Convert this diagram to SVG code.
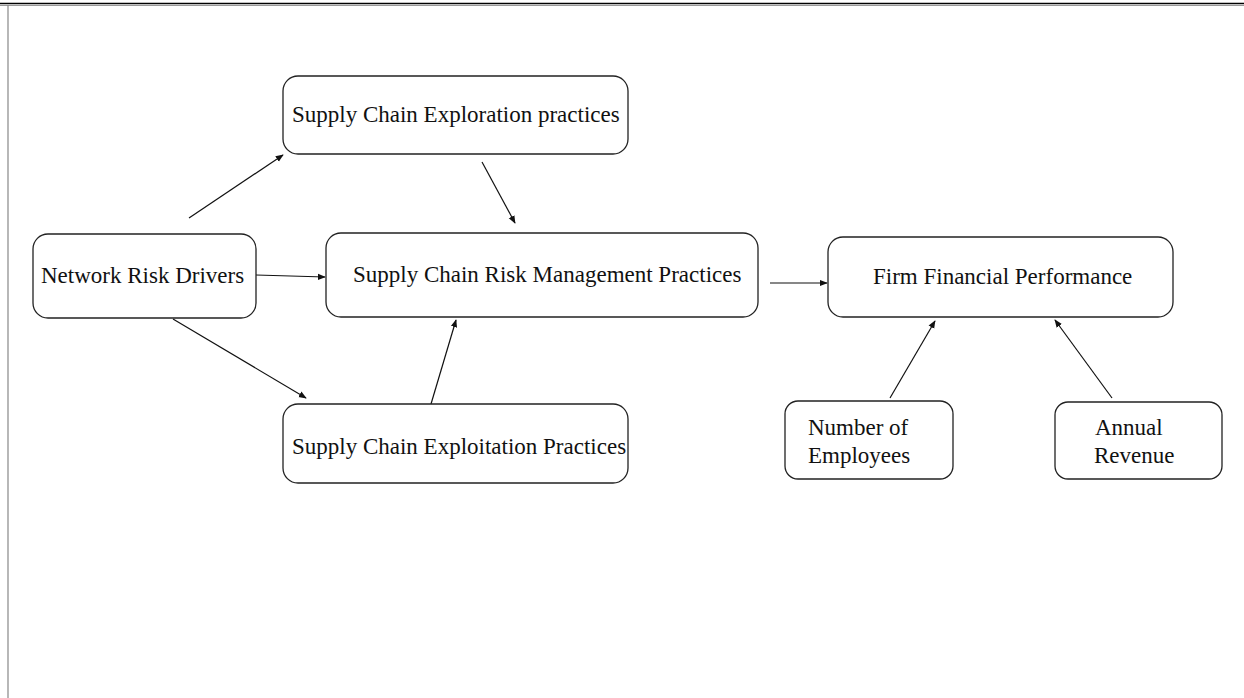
<svg xmlns="http://www.w3.org/2000/svg" width="1244" height="698" viewBox="0 0 1244 698">
<style>
.box{fill:#fff;stroke:#222;stroke-width:1.3}
.t{font-family:"Liberation Serif","Times New Roman",serif;font-size:23px;fill:#111}
.c{stroke:#111;stroke-width:1.2;fill:none;marker-end:url(#ah)}
</style>
<defs>
<marker id="ah" viewBox="0 0 10 10" refX="9" refY="5" markerWidth="8" markerHeight="8" markerUnits="userSpaceOnUse" orient="auto">
<path d="M0,1 L10,5 L0,9 z" fill="#111"/>
</marker>
</defs>
<rect width="1244" height="698" fill="#fff"/>
<g id="frame">
<line x1="0" y1="3.5" x2="1244" y2="3.5" stroke="#000" stroke-width="1.5"/>
<line x1="0" y1="5.5" x2="1244" y2="5.5" stroke="#999" stroke-width="1.2"/>
<line x1="8" y1="5" x2="8" y2="698" stroke="#888" stroke-width="1.2"/>
</g>
<g id="connectors">
<line class="c" x1="256" y1="275" x2="325" y2="277"/>
<line class="c" x1="189" y1="218" x2="283" y2="155"/>
<line class="c" x1="482" y1="162" x2="515" y2="223"/>
<line class="c" x1="173" y1="319" x2="306" y2="398"/>
<line class="c" x1="431" y1="404" x2="456" y2="320"/>
<line class="c" x1="770" y1="283" x2="827" y2="283"/>
<line class="c" x1="890" y1="398" x2="935" y2="321"/>
<line class="c" x1="1112" y1="398" x2="1055" y2="320"/>
</g>
<g id="nrd">
<rect class="box" x="33" y="234" width="223" height="84" rx="15"/>
<text class="t" x="41" y="283">Network Risk Drivers</text>
</g>
<g id="exploration">
<rect class="box" x="283" y="76" width="345" height="78" rx="15"/>
<text class="t" x="292" y="122">Supply Chain Exploration practices</text>
</g>
<g id="scrm">
<rect class="box" x="326" y="233" width="432" height="84" rx="15"/>
<text class="t" x="353" y="282">Supply Chain Risk Management Practices</text>
</g>
<g id="exploitation">
<rect class="box" x="283" y="404" width="345" height="79" rx="15"/>
<text class="t" x="292" y="454">Supply Chain Exploitation Practices</text>
</g>
<g id="firm">
<rect class="box" x="828" y="237" width="345" height="80" rx="15"/>
<text class="t" x="873" y="284">Firm Financial Performance</text>
</g>
<g id="employees">
<rect class="box" x="785" y="401" width="168" height="78" rx="13"/>
<text class="t" x="808" y="435">Number of</text>
<text class="t" x="808" y="463">Employees</text>
</g>
<g id="revenue">
<rect class="box" x="1055" y="402" width="167" height="77" rx="13"/>
<text class="t" x="1095" y="435">Annual</text>
<text class="t" x="1094" y="463">Revenue</text>
</g>
</svg>
